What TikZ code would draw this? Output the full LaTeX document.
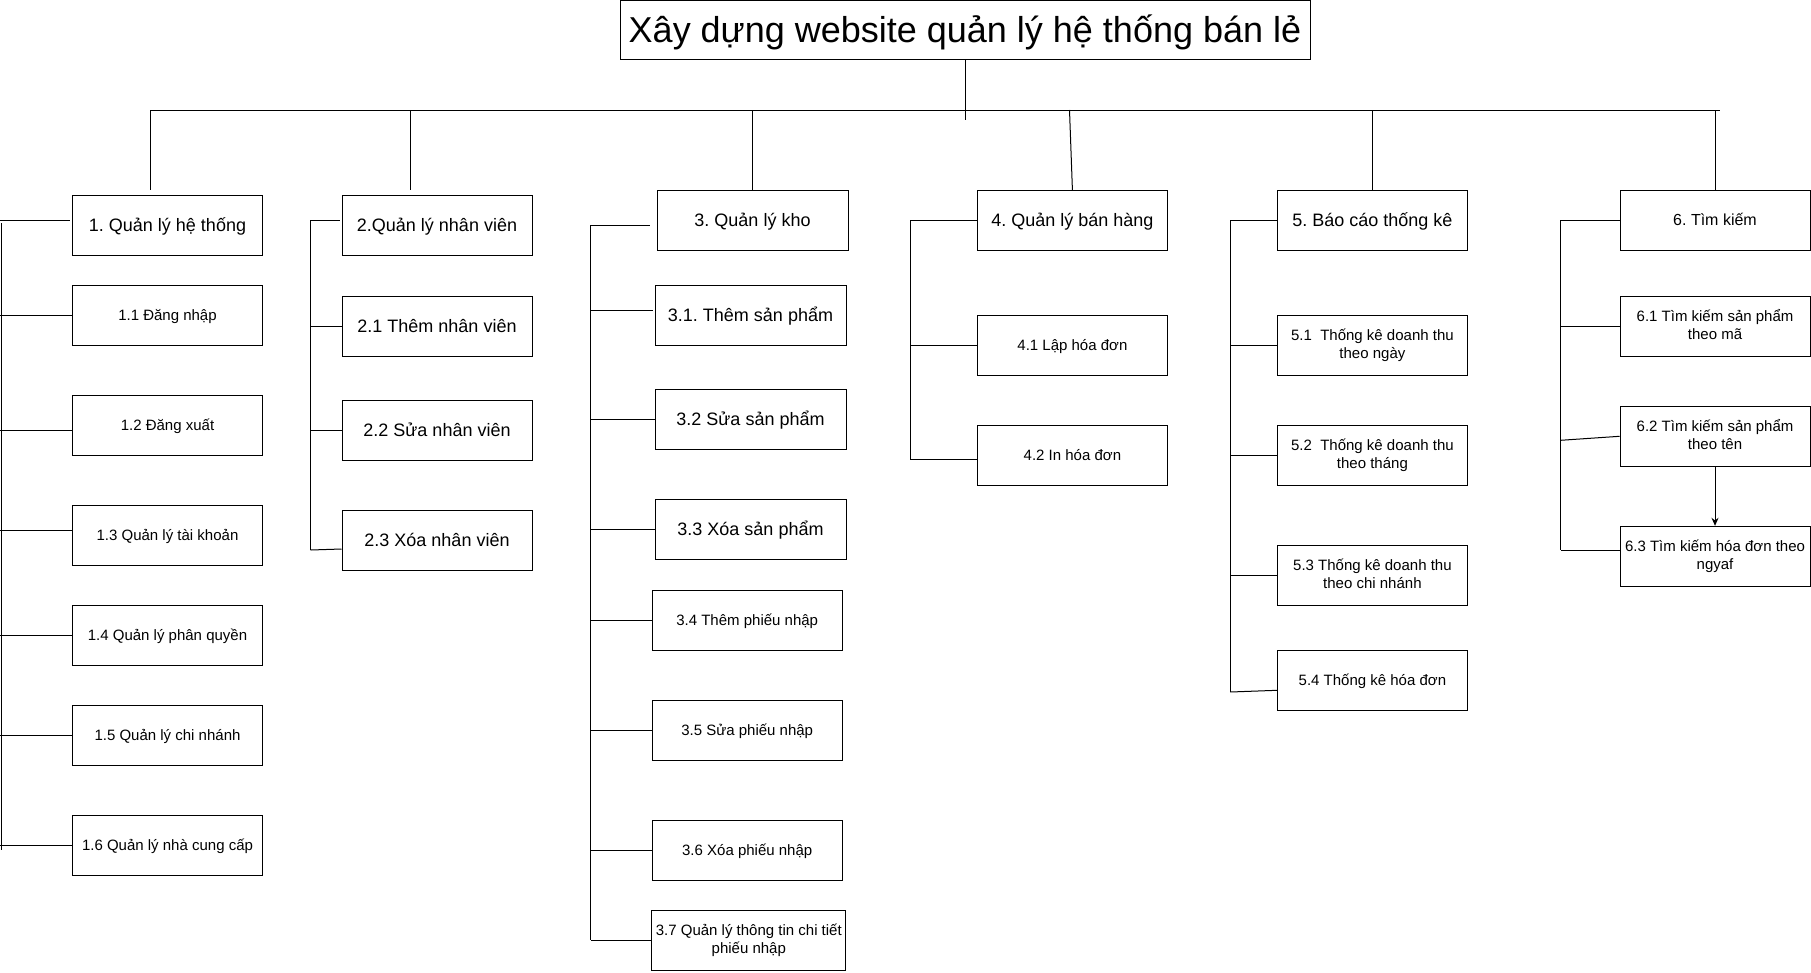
\documentclass[tikz,border=0pt]{standalone}
\usepackage{fontspec}
\setmainfont{Liberation Sans}
\usetikzlibrary{arrows.meta}
% invisible rule giving each box the ascent and descent of a full text line
\newcommand\linestrut{\rule[-0.212em]{0pt}{1.117em}}
\begin{document}
\frenchspacing
\begin{tikzpicture}[x=1pt,y=-1pt,
  box/.style={draw=black, line width=1pt, fill=white, minimum width=190pt,
    minimum height=60pt, inner sep=0pt, align=center, text=black,
    execute at begin node=\linestrut, execute at end node=\linestrut},
  big/.style={font=\fontsize{18}{21}\selectfont},
  mid/.style={font=\fontsize{16}{19}\selectfont},
  small/.style={font=\fontsize{15}{18.3}\selectfont},
  wire/.style={draw=black, line width=1pt},
  arr/.style={wire, -{Stealth[length=8pt,width=7pt]}}]
\useasboundingbox (0,0) rectangle (1811,972);

% root
\node[box, minimum width=690pt, minimum height=59pt,
  font=\fontsize{36}{40}\selectfont] (root) at (965,30.3)
  {Xây dựng website quản lý hệ thống bán lẻ};

% 1. system management
\node[box,big]   (n1)  at (167.5,225.3) {1. Quản lý hệ thống};
\node[box,small] (n11) at (167.5,315.3) {1.1 Đăng nhập};
\node[box,small] (n12) at (167.5,425.3) {1.2 Đăng xuất};
\node[box,small] (n13) at (167.5,535.3) {1.3 Quản lý tài khoản};
\node[box,small] (n14) at (167.5,635.3) {1.4 Quản lý phân quyền};
\node[box,small] (n15) at (167.5,735.3) {1.5 Quản lý chi nhánh};
\node[box,small] (n16) at (167.5,845.3) {1.6 Quản lý nhà cung cấp};

% 2. staff
\node[box,big] (n2)  at (437,225.3) {2.Quản lý nhân viên};
\node[box,big] (n21) at (437,326.3) {2.1 Thêm nhân viên};
\node[box,big] (n22) at (437,430.3) {2.2 Sửa nhân viên};
\node[box,big] (n23) at (437,540.3) {2.3 Xóa nhân viên};

% 3. warehouse
\node[box,big,minimum width=191pt] (n3)  at (752.5,220.3) {3. Quản lý kho};
\node[box,big,minimum width=191pt] (n31) at (750.5,315.3) {3.1. Thêm sản phẩm};
\node[box,big,minimum width=191pt] (n32) at (750.5,419.3) {3.2 Sửa sản phẩm};
\node[box,big,minimum width=191pt] (n33) at (750.5,529.3) {3.3 Xóa sản phẩm};
\node[box,small] (n34) at (747.2,620.3) {3.4 Thêm phiếu nhập};
\node[box,small] (n35) at (747.2,730.3) {3.5 Sửa phiếu nhập};
\node[box,small] (n36) at (747.2,850.3) {3.6 Xóa phiếu nhập};
\node[box,small,minimum width=193.7pt] (n37) at (748.8,940.3)
  {3.7 Quản lý thông tin chi tiết\\phiếu nhập};

% 4. sales
\node[box,big]   (n4)  at (1072.4,220.3) {4. Quản lý bán hàng};
\node[box,small] (n41) at (1072.4,345.3) {4.1 Lập hóa đơn};
\node[box,small] (n42) at (1072.4,455.3) {4.2 In hóa đơn};

% 5. reports
\node[box,big]   (n5)  at (1372.4,220.3) {5. Báo cáo thống kê};
\node[box,small] (n51) at (1372.4,345.3) {5.1\ \ Thống kê doanh thu\\theo ngày};
\node[box,small] (n52) at (1372.4,455.3) {5.2\ \ Thống kê doanh thu\\theo tháng};
\node[box,small] (n53) at (1372.4,575.3) {5.3 Thống kê doanh thu\\theo chi nhánh};
\node[box,small] (n54) at (1372.4,680) {5.4 Thống kê hóa đơn};

% 6. search
\node[box,mid]   (n6)  at (1715,220.3) {6. Tìm kiếm};
\node[box,small] (n61) at (1715,326.3) {6.1 Tìm kiếm sản phẩm\\theo mã};
\node[box,small] (n62) at (1715,436.3) {6.2 Tìm kiếm sản phẩm\\theo tên};
\node[box,small] (n63) at (1715,556.3) {6.3 Tìm kiếm hóa đơn theo\\ngyaf};

% top bus
\coordinate (busL) at (150,110);
\coordinate (busR) at (1720,110);
\draw[wire] (root.south) -- (965,120);
\draw[wire] (busL) -- (busR);
\draw[wire] (150,110) -- (150,190);
\draw[wire] (410,110) -- (410,190);
\draw[wire] (752.5,110) -- (n3.north);
\draw[wire] (1069.5,110) -- (n4.north);
\draw[wire] (1372.4,110) -- (n5.north);
\draw[wire] (1715,110) -- (n6.north);

% column 1 branches
\draw[wire] (1.5,223) -- (1.5,850);
\draw[wire] ([xshift=-2.5pt,yshift=5.3pt]n1.west) -- (0,220);
\draw[wire] (n11.west) -- (0,315.3);
\draw[wire] ([yshift=-4.7pt]n12.west) -- (0,430);
\draw[wire] ([yshift=5pt]n13.west) -- (0,530.3);
\draw[wire] (n14.west) -- (0,635.3);
\draw[wire] (n15.west) -- (0,735.3);
\draw[wire] (n16.west) -- (0,845.3);

% column 2 branches
\draw[wire] (310.7,220) -- (310.7,550);
\draw[wire] ([xshift=-2pt,yshift=5.3pt]n2.west) -- (310.7,220);
\draw[wire] (n21.west) -- (310.7,326.3);
\draw[wire] (n22.west) -- (310.7,430.3);
\draw[wire] ([yshift=-8.7pt]n23.west) -- (310.7,550);

% column 3 branches
\draw[wire] (590.6,225.3) -- (590.6,940.3);
\draw[wire] ([xshift=-7pt,yshift=-5pt]n3.west) -- (590.6,225.3);
\draw[wire] ([xshift=-2pt,yshift=5pt]n31.west) -- (590.6,310.3);
\draw[wire] (n32.west) -- (590.6,419.3);
\draw[wire] (n33.west) -- (590.6,529.3);
\draw[wire] (n34.west) -- (590.6,620.3);
\draw[wire] (n35.west) -- (590.6,730.3);
\draw[wire] (n36.west) -- (590.6,850.3);
\draw[wire] (n37.west) -- (590.6,940.3);

% column 4 branches
\draw[wire] (910.2,220.3) -- (910.2,459.3);
\draw[wire] (n4.west) -- (910.2,220.3);
\draw[wire] (n41.west) -- (910.2,345.3);
\draw[wire] ([yshift=-4pt]n42.west) -- (910.2,459.3);

% column 5 branches
\draw[wire] (1230.4,220.3) -- (1230.4,692);
\draw[wire] (n5.west) -- (1230.4,220.3);
\draw[wire] (n51.west) -- (1230.4,345.3);
\draw[wire] (n52.west) -- (1230.4,455.3);
\draw[wire] (n53.west) -- (1230.4,575.3);
\draw[wire] ([yshift=-10.3pt]n54.west) -- (1230.4,692);

% column 6 branches
\draw[wire] (1560.5,220.3) -- (1560.5,550);
\draw[wire] (n6.west) -- (1560.5,220.3);
\draw[wire] (n61.west) -- (1560.5,326.3);
\draw[wire] (n62.west) -- (1560.5,440.3);
\draw[wire] ([yshift=6.3pt]n63.west) -- (1560.5,550);
\draw[arr] (n62.south) -- (n63.north);
\end{tikzpicture}
\end{document}
